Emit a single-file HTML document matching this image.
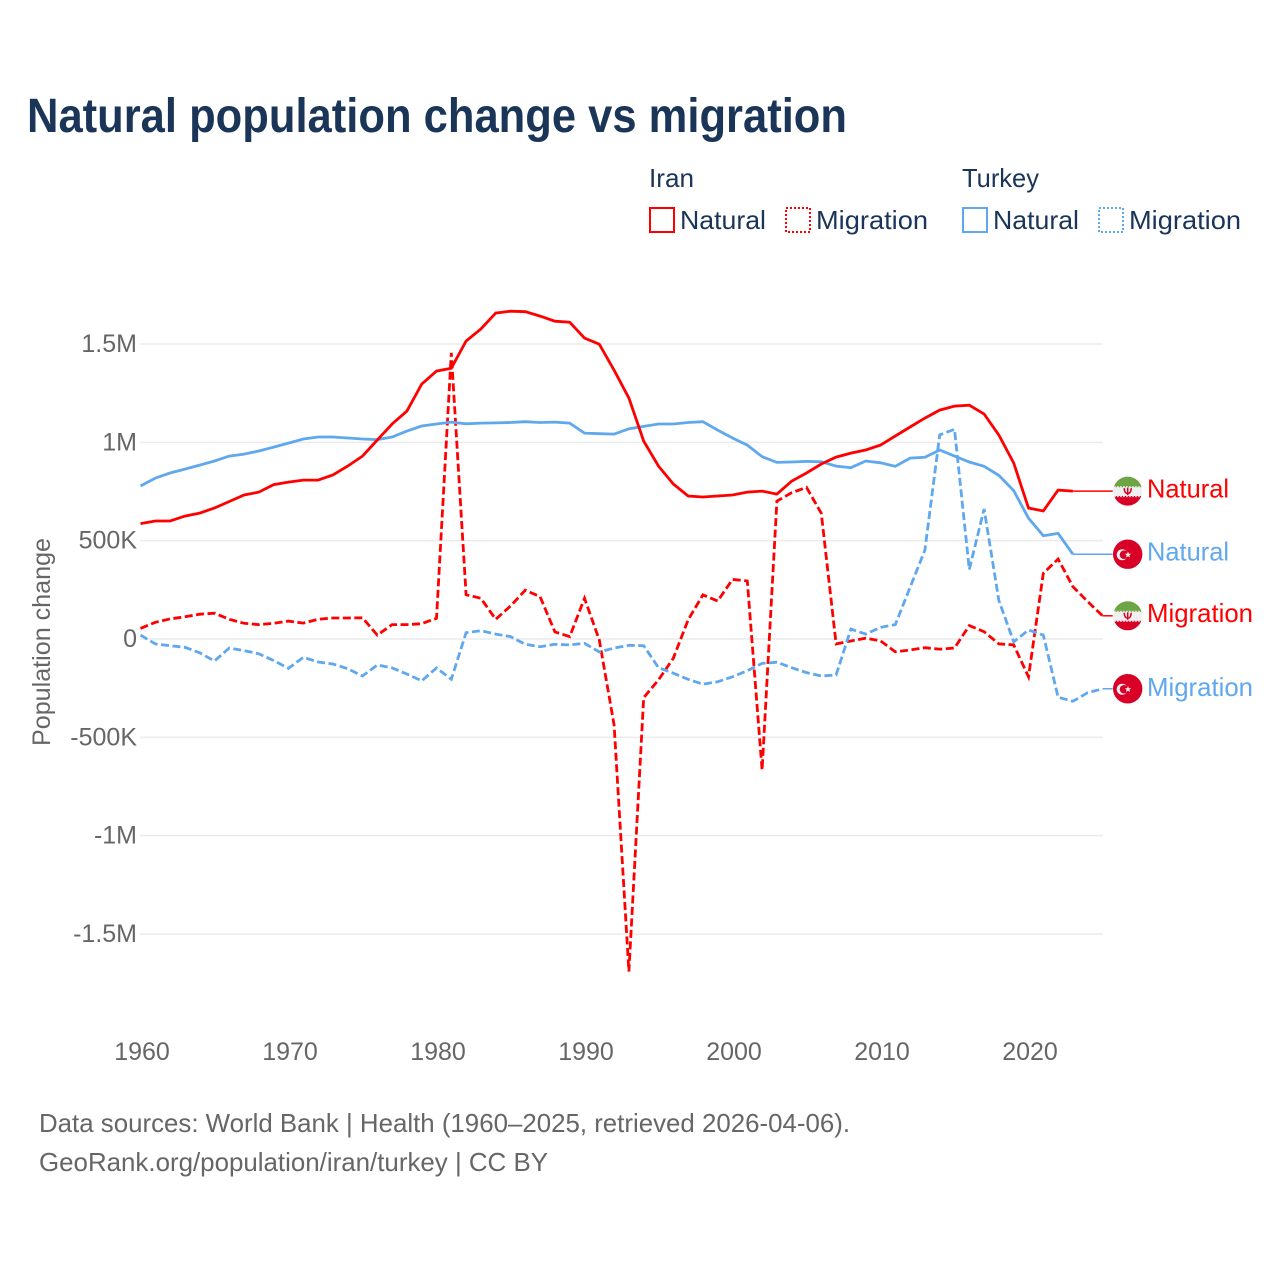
<!DOCTYPE html>
<html lang="en">
<head>
<meta charset="utf-8">
<title>Natural population change vs migration</title>
<style>
html,body{margin:0;padding:0;background:#fff;width:1280px;height:1280px;overflow:hidden}
svg{display:block;font-family:"Liberation Sans",sans-serif}
</style>
</head>
<body>
<svg id="chart" xmlns="http://www.w3.org/2000/svg" width="1280" height="1280" viewBox="0 0 1280 1280">
  <rect width="1280" height="1280" fill="#fff"/>
  <text x="27" y="132" font-size="48" font-weight="700" fill="#1a3557" textLength="820" lengthAdjust="spacingAndGlyphs">Natural population change vs migration</text>

  <g font-size="26" fill="#1a3557">
    <text x="649" y="187" textLength="45" lengthAdjust="spacingAndGlyphs">Iran</text>
    <text x="962" y="187" textLength="77" lengthAdjust="spacingAndGlyphs">Turkey</text>
    <rect x="650" y="208" width="24" height="24" fill="none" stroke="#ff0000" stroke-width="2"/>
    <text x="680" y="229" textLength="86" lengthAdjust="spacingAndGlyphs">Natural</text>
    <rect x="786" y="208" width="24" height="24" fill="none" stroke="#ff0000" stroke-width="2" stroke-dasharray="2 2"/>
    <text x="816" y="229" textLength="112" lengthAdjust="spacingAndGlyphs">Migration</text>
    <rect x="963" y="208" width="24" height="24" fill="none" stroke="#5fa8ee" stroke-width="2"/>
    <text x="993" y="229" textLength="86" lengthAdjust="spacingAndGlyphs">Natural</text>
    <rect x="1099" y="208" width="24" height="24" fill="none" stroke="#5fa8ee" stroke-width="2" stroke-dasharray="2 2"/>
    <text x="1129" y="229" textLength="112" lengthAdjust="spacingAndGlyphs">Migration</text>
  </g>

  <g id="grid"></g>
  <g id="yticks"></g>
  <g id="xticks"></g>
  <text transform="translate(50,642) rotate(-90)" text-anchor="middle" font-size="25" fill="#666" textLength="208" lengthAdjust="spacingAndGlyphs">Population change</text>
  <g id="series"></g>
  <g id="labels"></g>

  <text x="39" y="1132" font-size="26" fill="#666" textLength="811" lengthAdjust="spacingAndGlyphs">Data sources: World Bank | Health (1960–2025, retrieved 2026-04-06).</text>
  <text x="39" y="1171" font-size="26" fill="#666" textLength="509" lengthAdjust="spacingAndGlyphs">GeoRank.org/population/iran/turkey | CC BY</text>
</svg>
<script>
// Values in thousands of people per year, starting 1960.
const startYear = 1960;
const iranNatural = [587,600,600,625,640,666,699,732,747,785,
  798,808,808,834,879,930,1012,1093,1159,1296,
  1362,1377,1515,1576,1657,1667,1664,1642,1616,1611,
  1530,1499,1367,1225,1006,879,788,727,722,727,
  732,747,752,737,803,844,890,925,945,961,
  986,1032,1078,1123,1164,1184,1189,1144,1037,895,
  666,651,757,752];
const iranMigration = [54,85,102,113,126,131,100,80,73,80,
  91,81,100,107,107,108,20,73,73,78,
  105,1455,225,207,100,168,248,215,36,12,
  207,-5,-437,-1691,-298,-208,-98,97,224,193,
  303,295,-666,701,744,771,639,-25,-10,4,
  -9,-65,-56,-44,-52,-46,68,37,-25,-30,
  -192,334,407,266,190,118];
const turkeyNatural = [778,818,844,864,884,905,930,940,956,976,
  996,1017,1027,1027,1022,1017,1014,1027,1057,1083,
  1093,1103,1094,1098,1099,1101,1105,1101,1103,1098,
  1047,1044,1042,1069,1081,1093,1093,1101,1105,1062,
  1022,986,927,898,900,903,901,879,871,905,
  896,878,920,924,961,930,900,878,832,754,
  614,525,537,431];
const turkeyMigration = [20,-25,-34,-42,-70,-112,-46,-59,-75,-110,
  -149,-93,-117,-127,-151,-188,-132,-147,-178,-213,
  -147,-205,32,42,25,12,-27,-39,-27,-30,
  -22,-66,-46,-32,-34,-146,-174,-205,-230,-217,
  -192,-161,-124,-118,-146,-171,-188,-183,51,25,
  59,73,263,452,1038,1066,354,661,195,-14,
  46,20,-296,-317,-273,-253];
const yTickValues = [1500,1000,500,0,-500,-1000,-1500];
const yTickLabels = ["1.5M","1M","500K","0","-500K","-1M","-1.5M"];
const xTickYears = [1960,1970,1980,1990,2000,2010,2020];

const NS = "http://www.w3.org/2000/svg";
const RED = "#ff0000";
const BLUE = "#5fa8ee";
const PLOT_LEFT = 140;
const PLOT_RIGHT = 1103;
const FLAG_X = 1127.7;

function xScale(year){ return 140.5 + (year - 1960) * 14.8; }
function yScale(v){ return 639 - v * 0.19667; }
function make(tag, attrs, parent){
  const el = document.createElementNS(NS, tag);
  for (const k in attrs) el.setAttribute(k, attrs[k]);
  parent.appendChild(el);
  return el;
}

const gridG = document.getElementById("grid");
const yG = document.getElementById("yticks");
const xG = document.getElementById("xticks");
const seriesG = document.getElementById("series");
const labelsG = document.getElementById("labels");

yTickValues.forEach(function(v, i){
  const line = make("line", {x1:PLOT_LEFT, x2:PLOT_RIGHT, y1:yScale(v), y2:yScale(v), stroke:"#ebebeb", "stroke-width":1.5}, gridG);
  
  
  const t = make("text", {x:137, y:yScale(v)+8, "text-anchor":"end", "font-size":25, fill:"#666"}, yG);
  
  
  t.textContent = yTickLabels[i];
});

xTickYears.forEach(function(yr){
  const t = make("text", {x:xScale(yr)+1.5, y:1060, "text-anchor":"middle", "font-size":25, fill:"#666"}, xG);
  
  
  t.textContent = String(yr);
});

function drawSeries(values, color, dashed, name){
  const pts = values.map(function(v, i){ return xScale(startYear + i).toFixed(1) + "," + yScale(v).toFixed(1); }).join(" ");
  const line = make("polyline", {points:pts, fill:"none", stroke:color, "stroke-width":2.8, "stroke-linejoin":"miter"}, seriesG);
  if (dashed) line.setAttribute("stroke-dasharray", "8 3.5");
  
  
  const lastX = xScale(startYear + values.length - 1);
  const lastY = yScale(values[values.length - 1]);
  const leader = make("line", {x1:lastX, y1:lastY, x2:FLAG_X-15, y2:lastY, stroke:color, "stroke-width":1.5}, seriesG);
  
  
  return lastY;
}

let clipCount = 0;
function drawIranFlag(cy){
  const g = make("g", {transform:"translate(" + FLAG_X + "," + cy + ")"}, labelsG);
  
  
  const id = "flagclip" + (clipCount++);
  const cp = make("clipPath", {id:id}, g);
  make("circle", {r:14.5}, cp);
  const inner = make("g", {"clip-path":"url(#" + id + ")"}, g);
  make("rect", {x:-15, y:-15, width:30, height:30, fill:"#f0f0f0"}, inner);
  make("rect", {x:-15, y:-15, width:30, height:10, fill:"#6da544"}, inner);
  make("rect", {x:-15, y:6, width:30, height:10, fill:"#d80027"}, inner);
  make("line", {x1:-15, x2:15, y1:-4.5, y2:-4.5, stroke:"#6da544", "stroke-width":1.2, "stroke-dasharray":"1.5 1.5"}, inner);
  make("line", {x1:-15, x2:15, y1:5.5, y2:5.5, stroke:"#d80027", "stroke-width":1.2, "stroke-dasharray":"1.5 1.5"}, inner);
  make("path", {d:"M-3.5,-3 C-3.5,1 -1.5,2.5 0,2.5 C1.5,2.5 3.5,1 3.5,-3 M0,-3.5 V4", fill:"none", stroke:"#d80027", "stroke-width":1.5}, inner);
}
function drawTurkeyFlag(cy){
  const g = make("g", {transform:"translate(" + FLAG_X + "," + cy + ")"}, labelsG);
  
  
  make("circle", {r:14.7, fill:"#d80027"}, g);
  make("circle", {cx:-5.5, cy:0.5, r:5.5, fill:"#f0f0f0"}, g);
  make("circle", {cx:-3.7, cy:0.5, r:4.3, fill:"#d80027"}, g);
  make("polygon", {points:"0,-3.2 0.9,-1 3.2,-1 1.4,0.5 2,2.8 0,1.5 -2,2.8 -1.4,0.5 -3.2,-1 -0.9,-1", fill:"#f0f0f0", transform:"translate(0.3,0.5)"}, g);
}
function drawEndLabel(text, color, cy, width, drawFlag, name, dy){
  drawFlag(cy);
  const t = make("text", {x:1147, y:cy+dy, "font-size":26, fill:color, textLength:width, lengthAdjust:"spacingAndGlyphs"}, labelsG);
  
  
  t.textContent = text;
}

const yMigI = drawSeries(iranMigration, RED, true, "iran-migration");
const yMigT = drawSeries(turkeyMigration, BLUE, true, "turkey-migration");
const yNatT = drawSeries(turkeyNatural, BLUE, false, "turkey-natural");
const yNatI = drawSeries(iranNatural, RED, false, "iran-natural");

drawEndLabel("Natural", RED, yNatI, 82, drawIranFlag, "iran-natural", 6.5);
drawEndLabel("Natural", BLUE, yNatT, 82, drawTurkeyFlag, "turkey-natural", 6.5);
drawEndLabel("Migration", RED, yMigI, 106, drawIranFlag, "iran-migration", 6);
drawEndLabel("Migration", BLUE, yMigT, 106, drawTurkeyFlag, "turkey-migration", 7);
</script>
</body>
</html>
